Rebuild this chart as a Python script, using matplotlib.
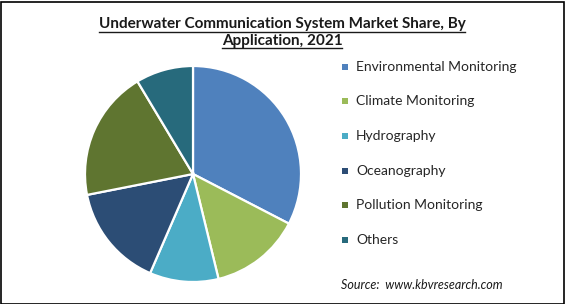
import matplotlib
matplotlib.use("Agg")
import matplotlib.pyplot as plt
from matplotlib.patches import Rectangle

categories = ["Environmental Monitoring", "Climate Monitoring", "Hydrography",
              "Oceanography", "Pollution Monitoring", "Others"]
shares = [32.6, 13.6, 10.3, 15.4, 19.5, 8.6]
colors = ["#4F81BD", "#9BBB59", "#4BACC6", "#2C4D75", "#5F7530", "#276A7C"]
title_lines = ["Underwater Communication System Market Share, By", "Application, 2021"]
source = "Source:  www.kbvresearch.com"

plt.rcParams['font.family'] = ['Lato', 'DejaVu Sans']

W, H = 565, 304
fig = plt.figure(figsize=(W / 100, H / 100), dpi=100)
fig.patch.set_facecolor("white")

# pie axes: center (193,174), radius 108 px
r = 108
cx, cy = 193, 174
ax = fig.add_axes([(cx - r) / W, 1 - (cy + r) / H, 2 * r / W, 2 * r / H])
wedges, _ = ax.pie(shares, colors=colors, startangle=90, counterclock=False,
                   wedgeprops=dict(edgecolor="white", linewidth=1.6))
ax.set_aspect("auto")
ax.set_xlim(-1, 1)
ax.set_ylim(-1, 1)
ax.axis("off")

# title (two lines, underlined)
title_y = [24, 41]
title_texts = []
for line, y in zip(title_lines, title_y):
    title_texts.append(fig.text(282 / W, 1 - y / H, line, ha="center", va="center",
                                fontsize=11, fontweight="bold", color="#1a1a1a"))

fig.canvas.draw()
renderer = fig.canvas.get_renderer()
underline_y = [31.5, 48]
for t, uy in zip(title_texts, underline_y):
    bb = t.get_window_extent(renderer)
    fig.add_artist(plt.Line2D([bb.x0 / W, bb.x1 / W], [1 - uy / H, 1 - uy / H],
                              color="#1a1a1a", linewidth=1.0))

# legend
row_y = [67, 101, 136, 171, 205, 240]
for name, col, y in zip(categories, colors, row_y):
    fig.add_artist(Rectangle(((345 - 3) / W, 1 - (y + 3) / H), 6 / W, 6 / H,
                             facecolor=col, edgecolor="none"))
    fig.text(356 / W, 1 - y / H, name, ha="left", va="center",
             fontsize=10, color="#262626")

fig.text(341 / W, 1 - 285 / H, source, ha="left", va="center",
         fontsize=9, style="italic", color="#1a1a1a")

# frame
fig.add_artist(Rectangle((0.5 / W, 0.5 / H), (W - 2) / W, (H - 2) / H,
                         fill=False, edgecolor="black", linewidth=1.2))

fig.savefig("out.png", dpi=100)
